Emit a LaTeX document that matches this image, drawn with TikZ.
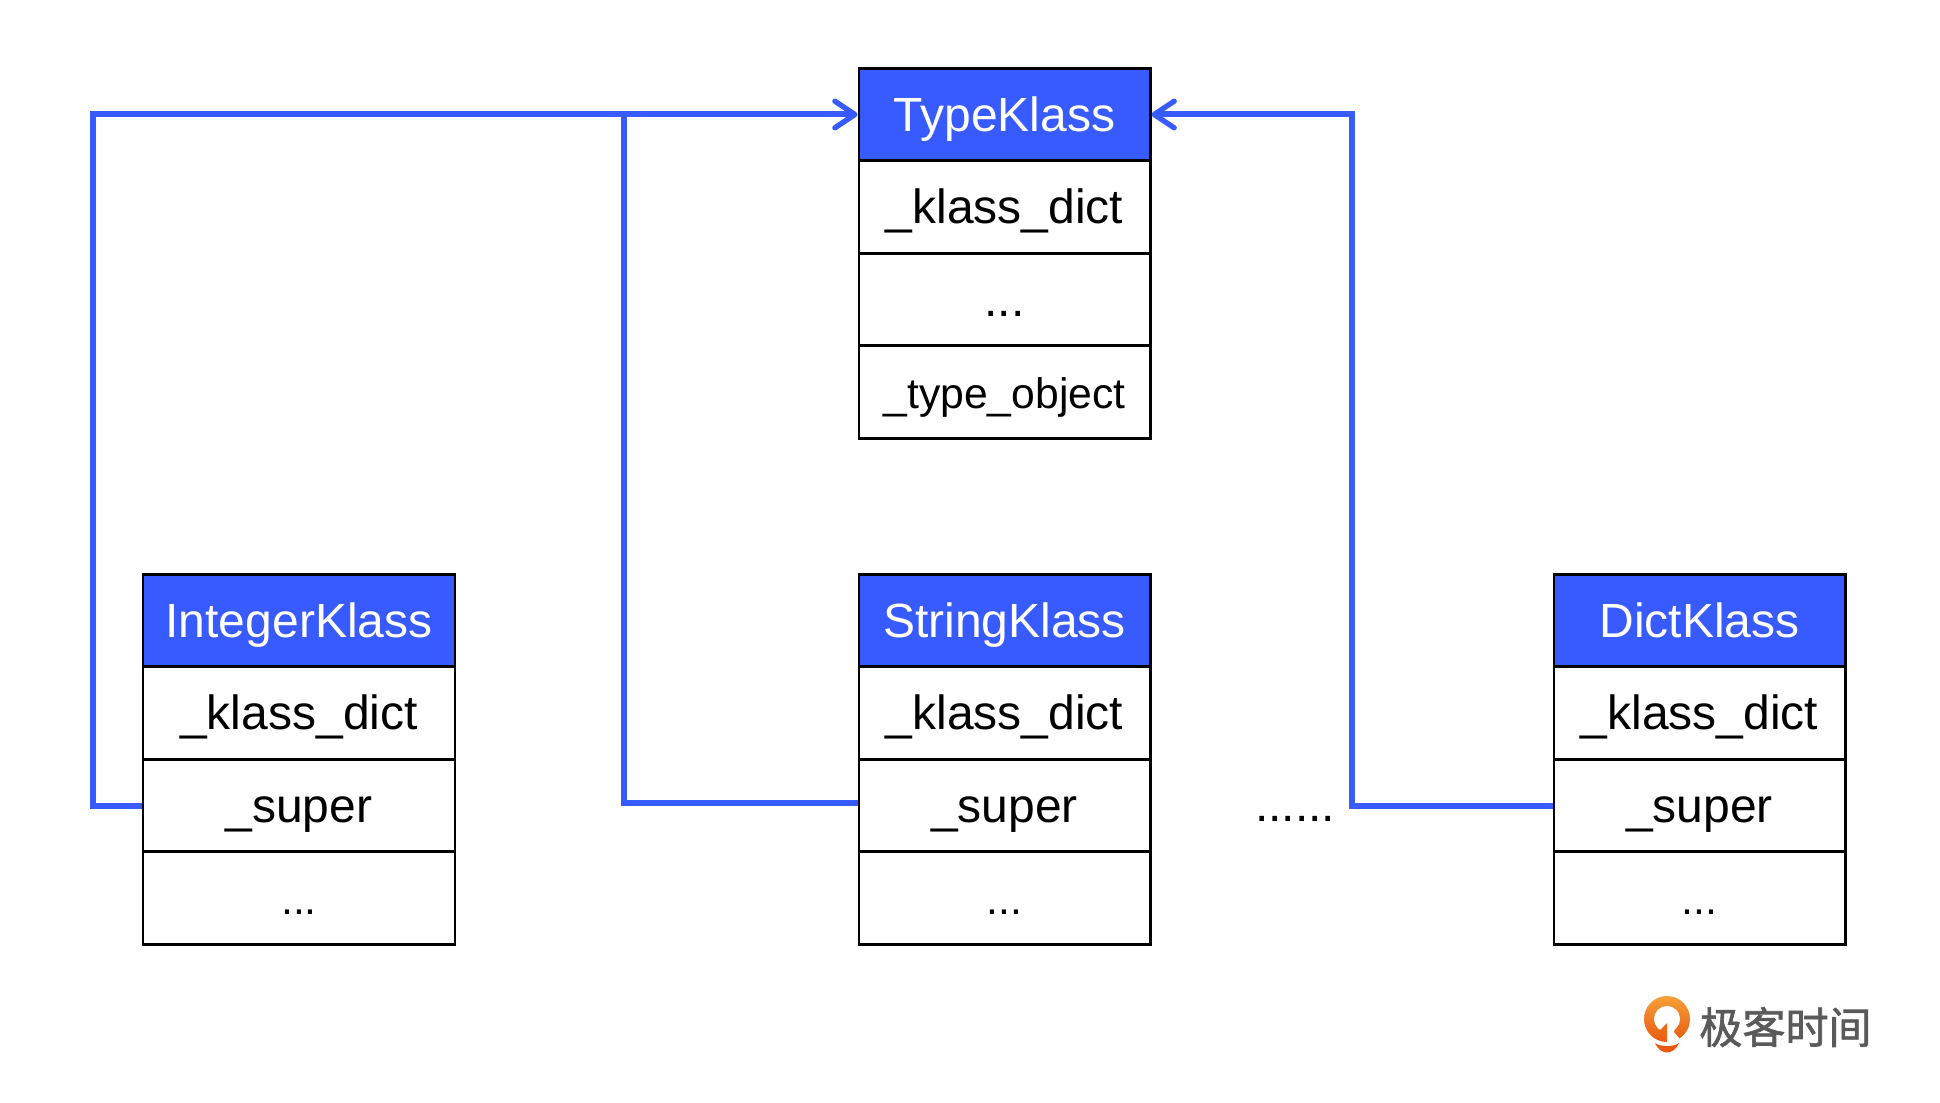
\documentclass[tikz,border=0pt]{standalone}
\usepackage{fontspec}
\usetikzlibrary{arrows.meta}
\setmainfont{Liberation Sans}
\newfontfamily\cjk[FakeBold=1.4]{Noto Sans CJK SC}
\definecolor{kblue}{HTML}{385BFF}
\definecolor{kgrey}{HTML}{5A5A5A}
\definecolor{logotop}{HTML}{F6A03A}
\definecolor{logobot}{HTML}{E9590F}
\definecolor{logomid}{HTML}{EC6A17}
\tikzset{
  x=0.75pt,y=-0.75pt,
  rowbox/.style={draw=black,line width=2pt,fill=white,minimum height=69.4pt,inner sep=0pt,text height=30pt,text depth=5.2pt,font=\fontsize{36}{40}\selectfont,text=black},
  headbox/.style={rowbox,fill=kblue,text=white},
  smallrow/.style={rowbox,font=\fontsize{32}{40}\selectfont},
  stdw/.style={minimum width=218.5pt},
  intw/.style={minimum width=234pt},
  plain/.style={text height=30pt,text depth=5.2pt,inner sep=0pt,font=\fontsize{36}{40}\selectfont},
  logotext/.style={inner sep=0pt,text=kgrey,font=\cjk\fontsize{32.3}{36}\selectfont},
  link/.style={draw=kblue,line width=4.5pt,line join=miter},
  linkarrow/.style={link,-{Straight Barb[length=15pt,width=20pt,line width=4pt,round]}},
}
\begin{document}
\begin{tikzpicture}
\useasboundingbox (0,0) rectangle (1940,1102);
\fill[white] (0,0) rectangle (1940,1102);
% TypeKlass
\node[headbox,stdw] (thead) at (1004.5,114.5) {TypeKlass};
\node[rowbox,stdw] (tdict) at (1004.5,207) {\_klass\_dict};
\node[rowbox,stdw] (tdots) at (1004.5,299.5) {...};
\node[smallrow,stdw] (tobj) at (1004.5,392) {\_type\_object};
% IntegerKlass
\node[headbox,intw] (ihead) at (299,620.5) {IntegerKlass};
\node[rowbox,intw] (idict) at (299,713) {\_klass\_dict};
\node[rowbox,intw] (isuper) at (299,805.5) {\_super};
\node[smallrow,intw] (idots) at (299,898) {...};
% StringKlass
\node[headbox,stdw] (shead) at (1004.5,620.5) {StringKlass};
\node[rowbox,stdw] (sdict) at (1004.5,713) {\_klass\_dict};
\node[rowbox,stdw] (ssuper) at (1004.5,805.5) {\_super};
\node[smallrow,stdw] (sdots) at (1004.5,898) {...};
% DictKlass
\node[headbox,stdw] (dhead) at (1699.5,620.5) {DictKlass};
\node[rowbox,stdw] (ddict) at (1699.5,713) {\_klass\_dict};
\node[rowbox,stdw] (dsuper) at (1699.5,805.5) {\_super};
\node[smallrow,stdw] (ddots) at (1699.5,898) {...};
\node[plain] (gap) at (1295,805) {......};
% connectors
\coordinate (ltop) at (93,114.5);
\coordinate (mtop) at (624,114.5);
\coordinate (rtop) at (1352,114.5);
\draw[linkarrow] (isuper.west) -| (ltop) -- (thead.west);
\draw[link] ([yshift=2.2pt]ssuper.west) -| (mtop);
\draw[linkarrow] (dsuper.west) -| (rtop) -- (thead.east);
% logo
\shade[top color=logotop,bottom color=logobot,shading angle=0]
  (1667,1019) circle[radius=23];
\fill[white] (1667,1019) circle[radius=13];
\fill[white] (1667,1023) -- (1667,1044) -- (1684,1044) -- (1674,1032) -- (1677,1018) -- cycle;
\fill[logomid] (1667,1023) -- (1658,1032) -- (1667,1041) -- cycle;
\fill[logobot] (1655,1043) .. controls (1660,1047) and (1674,1047) .. (1679,1043)
  .. controls (1676,1050) and (1671,1052.5) .. (1667,1052.5)
  .. controls (1663,1052.5) and (1658,1050) .. (1655,1043) -- cycle;
\node[logotext] (logoname) at (1785.5,1027) {极客时间};
\end{tikzpicture}
\end{document}
